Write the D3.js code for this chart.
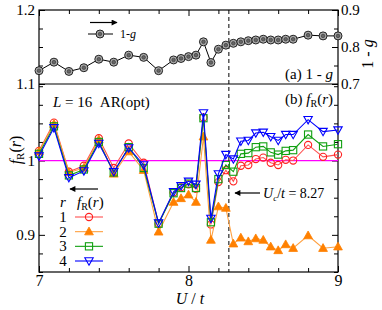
<!DOCTYPE html>
<html>
<head>
<meta charset="utf-8">
<script src="https://cdn.jsdelivr.net/npm/d3@7"></script>
<style>
  body { margin: 0; background: #fff; }
  text { font-family: "Liberation Serif", "Times New Roman", serif; }
</style>
</head>
<body>
<div id="chart"></div>
<script>
// U/t values shared by both panels
const U = [7.0, 7.1, 7.2, 7.3, 7.4, 7.5, 7.6, 7.7, 7.8, 7.9, 7.95, 8.0, 8.05, 8.1, 8.15,
           8.2, 8.25, 8.3, 8.35, 8.4, 8.45, 8.5, 8.55, 8.6, 8.65, 8.7, 8.8, 8.9, 9.0];

// (a) 1 - g, right axis
const oneMinusG = [0.736, 0.759, 0.734, 0.744, 0.767, 0.759, 0.778, 0.772, 0.736, 0.765, 0.769, 0.774, 0.778, 0.814, 0.758,
                   0.794, 0.805, 0.810, 0.814, 0.817, 0.819, 0.821, 0.819, 0.819, 0.821, 0.821, 0.832, 0.830, 0.830];

// (b) f_R(r) for r = 1..4
const f1 = [1.013, 1.051, 0.985, 0.993, 1.030, 0.990, 1.023, 0.997, 0.915, 0.957, 0.964, 0.968, 0.962, 1.058, 0.914,
            0.971, 0.987, 0.972, 0.993, 0.994, 1.002, 1.004, 0.997, 0.994, 1.001, 1.000, 1.021, 1.005, 1.008];
const f2 = [1.012, 1.049, 0.984, 0.990, 1.028, 0.982, 1.012, 0.987, 0.904, 0.944, 0.949, 0.954, 0.944, 1.032, 0.893,
            0.938, 0.936, 0.888, 0.896, 0.891, 0.895, 0.893, 0.884, 0.879, 0.887, 0.882, 0.899, 0.882, 0.884];
const f3 = [1.009, 1.046, 0.980, 0.988, 1.025, 0.984, 1.018, 0.990, 0.915, 0.956, 0.963, 0.969, 0.963, 1.057, 0.917,
            0.975, 0.994, 0.985, 1.009, 1.010, 1.018, 1.019, 1.011, 1.008, 1.013, 1.014, 1.035, 1.019, 1.022];
const f4 = [1.006, 1.044, 0.977, 0.986, 1.023, 0.985, 1.017, 0.994, 0.916, 0.958, 0.966, 0.972, 0.968, 1.064, 0.922,
            0.982, 1.008, 1.002, 1.026, 1.027, 1.037, 1.038, 1.032, 1.027, 1.035, 1.035, 1.055, 1.039, 1.041];

const rLabels = ["1", "2", "3", "4"];
const Uc = 8.27;

const width = 382, height = 310;
const left = 39, right = 338, topY = 10, midY = 84, bottom = 272;

let svg = d3.select("#chart").append("svg")
    .attr("width", width).attr("height", height);

let x = d3.scaleLinear().domain([7, 9]).range([left, right]);
let yTopL = d3.scaleLinear().domain([1.1, 1.2]).range([midY, topY]);
let yTopR = d3.scaleLinear().domain([0.7, 0.9]).range([midY, topY]);
let yBot = d3.scaleLinear().domain([0.85, 1.103]).range([bottom, midY]);

const fs = 15;

function styleAxis(g, majors, minorLen, majorLen) {
    g.select(".domain").remove();
    g.selectAll(".tick text").attr("font-size", fs).attr("fill", "#000")
        .style("font-family", "Liberation Serif");
    g.selectAll(".tick line").attr("stroke", "#000");
    g.selectAll(".tick").each(function(d) {
        let isMajor = majors.some(m => Math.abs(m - d) < 1e-6);
        let ln = d3.select(this).select("line");
        let k = ln.attr("x2") !== null && +ln.attr("x2") !== 0 ? "x2" : "y2";
        let sgn = Math.sign(+ln.attr(k));
        ln.attr(k, sgn * (isMajor ? majorLen : minorLen));
    });
}

const xTicks = d3.range(7, 9.001, 0.2).map(v => +v.toFixed(1));

// bottom x axis
svg.append("g").attr("transform", `translate(0,${bottom})`)
    .call(d3.axisBottom(x).tickValues(xTicks).tickSize(-4).tickPadding(3)
        .tickFormat(d => Number.isInteger(d) ? d : ""))
    .call(g => styleAxis(g, [7, 8, 9], 4, 6))
    .selectAll(".tick text").attr("font-size", 16);

// top x ticks (inward)
svg.append("g").attr("transform", `translate(0,${topY})`)
    .call(d3.axisTop(x).tickValues(xTicks).tickSize(-4).tickFormat(""))
    .call(g => styleAxis(g, [7, 8, 9], 4, 6));

// top panel left axis
const tlTicks = [1.1, 1.125, 1.15, 1.175, 1.2];
svg.append("g").attr("transform", `translate(${left},0)`)
    .call(d3.axisLeft(yTopL).tickValues(tlTicks).tickSize(-4).tickPadding(4)
        .tickFormat(d => (d === 1.1 || d === 1.2) ? d3.format(".1f")(d) : ""))
    .call(g => styleAxis(g, [1.1, 1.2], 4, 6));

// top panel right axis
const trTicks = [0.7, 0.75, 0.8, 0.85, 0.9];
svg.append("g").attr("transform", `translate(${right},0)`)
    .call(d3.axisRight(yTopR).tickValues(trTicks).tickSize(-4).tickPadding(3)
        .tickFormat(d => [0.7, 0.8, 0.9].includes(d) ? d3.format(".1f")(d) : ""))
    .call(g => styleAxis(g, [0.7, 0.8, 0.9], 4, 6));

// bottom panel left/right axes
const bTicks = d3.range(0, 11).map(i => +(0.85 + i * 0.025).toFixed(3));
svg.append("g").attr("transform", `translate(${left},0)`)
    .call(d3.axisLeft(yBot).tickValues(bTicks).tickSize(-4).tickPadding(4)
        .tickFormat(d => d === 1 ? "1" : (d === 0.9 ? "0.9" : "")))
    .call(g => styleAxis(g, [0.9, 1.0], 4, 6));
svg.append("g").attr("transform", `translate(${right},0)`)
    .call(d3.axisRight(yBot).tickValues(bTicks).tickSize(-4).tickFormat(""))
    .call(g => styleAxis(g, [0.9, 1.0], 4, 6));

// frames
svg.append("rect").attr("x", left).attr("y", topY)
    .attr("width", right - left).attr("height", bottom - topY)
    .attr("fill", "none").attr("stroke", "#000").attr("stroke-width", 1.2);
svg.append("line").attr("x1", left).attr("x2", right)
    .attr("y1", midY).attr("y2", midY)
    .attr("stroke", "#000").attr("stroke-width", 1.2);

// magenta f=1 line
svg.append("line").attr("x1", left).attr("x2", right)
    .attr("y1", yBot(1)).attr("y2", yBot(1))
    .attr("stroke", "#ff00ff").attr("stroke-width", 1.2);

// Uc dashed line
svg.append("line").attr("x1", x(Uc)).attr("x2", x(Uc))
    .attr("y1", topY).attr("y2", bottom)
    .attr("stroke", "#000").attr("stroke-width", 1).attr("stroke-dasharray", "4,3");

// arrow marker
svg.append("defs").append("marker")
    .attr("id", "ah").attr("viewBox", "0 0 10 10").attr("refX", 9).attr("refY", 5)
    .attr("markerWidth", 9).attr("markerHeight", 6).attr("orient", "auto-start-reverse")
    .attr("markerUnits", "userSpaceOnUse")
    .append("path").attr("d", "M0,0 L10,5 L0,10 Z").attr("fill", "#000");

function arrow(x1, x2, y) {
    svg.append("line").attr("x1", x1).attr("x2", x2).attr("y1", y).attr("y2", y)
        .attr("stroke", "#000").attr("stroke-width", 1.2).attr("marker-end", "url(#ah)");
}

// (a) 1-g line
let lineTop = d3.line().x((d, i) => x(U[i])).y(d => yTopR(d));
svg.append("path").datum(oneMinusG).attr("d", lineTop)
    .attr("fill", "none").attr("stroke", "#000").attr("stroke-width", 1);
function gMarker(g, cx, cy) {
    g.append("circle").attr("cx", cx).attr("cy", cy).attr("r", 4)
        .attr("fill", "#aaa").attr("stroke", "#222").attr("stroke-width", 1);
    g.append("circle").attr("cx", cx).attr("cy", cy).attr("r", 1.8)
        .attr("fill", "#666").attr("stroke", "#333").attr("stroke-width", 0.6);
}
let gm = svg.append("g");
oneMinusG.forEach((d, i) => gMarker(gm, x(U[i]), yTopR(d)));

// (b) f_R(r) series
const series = [
    {vals: f1, color: "#ff2020", line: "#ff5050", shape: "circle", fill: "none"},
    {vals: f2, color: "#ff8000", line: "#ffa040", shape: "up", fill: "#ff8000"},
    {vals: f3, color: "#10a010", line: "#10a010", shape: "square", fill: "none"},
    {vals: f4, color: "#0000ff", line: "#0000ff", shape: "down", fill: "none"}
];

function drawMarker(g, s, cx, cy) {
    if (s.shape === "circle") {
        g.append("circle").attr("cx", cx).attr("cy", cy).attr("r", 3.6)
            .attr("fill", "none").attr("stroke", s.color).attr("stroke-width", 1.1);
    } else if (s.shape === "square") {
        g.append("rect").attr("x", cx - 3.6).attr("y", cy - 3.6).attr("width", 7.2).attr("height", 7.2)
            .attr("fill", "none").attr("stroke", s.color).attr("stroke-width", 1.1);
    } else if (s.shape === "up") {
        g.append("path").attr("d", `M${cx},${cy - 4.6} L${cx + 4.4},${cy + 3.2} L${cx - 4.4},${cy + 3.2} Z`)
            .attr("fill", s.fill).attr("stroke", s.color).attr("stroke-width", 0.8);
    } else {
        g.append("path").attr("d", `M${cx},${cy + 4.2} L${cx + 4.2},${cy - 3.2} L${cx - 4.2},${cy - 3.2} Z`)
            .attr("fill", "none").attr("stroke", s.color).attr("stroke-width", 1.1);
    }
}

let lineBot = d3.line().x((d, i) => x(U[i])).y(d => yBot(d));
series.forEach(s => {
    let g = svg.append("g");
    g.append("path").datum(s.vals).attr("d", lineBot)
        .attr("fill", "none").attr("stroke", s.line).attr("stroke-width", 1.1);
    s.vals.forEach((d, i) => drawMarker(g, s, x(U[i]), yBot(d)));
});

// legend (a)
arrow(90, 117, 22.5);
svg.append("line").attr("x1", 88).attr("x2", 113).attr("y1", 34).attr("y2", 34)
    .attr("stroke", "#000").attr("stroke-width", 1);
gMarker(svg, 100, 34);
let t1 = svg.append("text").attr("x", 120).attr("y", 38).attr("font-size", 12);
t1.append("tspan").text("1-");
t1.append("tspan").attr("font-style", "italic").text("g");

// panel labels
let ta = svg.append("text").attr("x", 333).attr("y", 79).attr("font-size", fs).attr("text-anchor", "end");
ta.append("tspan").text("(a) 1 - ");
ta.append("tspan").attr("font-style", "italic").text("g");

let tb = svg.append("text").attr("x", 333).attr("y", 104).attr("font-size", fs).attr("text-anchor", "end");
tb.append("tspan").text("(b) ");
tb.append("tspan").attr("font-style", "italic").text("f");
tb.append("tspan").attr("font-size", 10).attr("dy", 3).text("R");
tb.append("tspan").attr("dy", -3).text("(");
tb.append("tspan").attr("font-style", "italic").text("r");
tb.append("tspan").text(")");

let tl = svg.append("text").attr("x", 53).attr("y", 107).attr("font-size", fs);
tl.append("tspan").attr("font-style", "italic").text("L");
tl.append("tspan").text(" = 16\u00a0\u00a0AR(opt)");

// left-pointing arrows
arrow(98, 70, 189);
arrow(260, 235, 193);
let tu = svg.append("text").attr("x", 263).attr("y", 198).attr("font-size", 14);
tu.append("tspan").attr("font-style", "italic").text("U");
tu.append("tspan").attr("font-style", "italic").attr("font-size", 9).attr("dy", 3).text("c");
tu.append("tspan").attr("dy", -3).text("/");
tu.append("tspan").attr("font-style", "italic").text("t");
tu.append("tspan").text(" = 8.27");

// legend (b)
let lh = svg.append("text").attr("x", 60).attr("y", 207).attr("font-size", fs);
lh.append("tspan").attr("font-style", "italic").text("r");
let lh2 = svg.append("text").attr("x", 77).attr("y", 207).attr("font-size", fs);
lh2.append("tspan").attr("font-style", "italic").text("f");
lh2.append("tspan").attr("font-size", 10).attr("dy", 3).text("R");
lh2.append("tspan").attr("dy", -3).text("(");
lh2.append("tspan").attr("font-style", "italic").text("r");
lh2.append("tspan").text(")");

const legY = d3.scalePoint().domain(rLabels).range([217, 261]);
series.forEach((s, i) => {
    let yy = legY(rLabels[i]);
    svg.append("text").attr("x", 63).attr("y", yy + 5).attr("font-size", fs)
        .attr("text-anchor", "middle").text(rLabels[i]);
    svg.append("line").attr("x1", 75).attr("x2", 103).attr("y1", yy).attr("y2", yy)
        .attr("stroke", s.line).attr("stroke-width", 1.1);
    drawMarker(svg, s, 89, yy);
});

// axis titles
let xl = svg.append("text").attr("x", 190).attr("y", 304).attr("font-size", 16).attr("text-anchor", "middle");
xl.append("tspan").attr("font-style", "italic").text("U");
xl.append("tspan").text(" / ");
xl.append("tspan").attr("font-style", "italic").text("t");

let yl = svg.append("text").attr("transform", "translate(21,150) rotate(-90)")
    .attr("font-size", 16).attr("text-anchor", "middle");
yl.append("tspan").attr("font-style", "italic").text("f");
yl.append("tspan").attr("font-size", 11).attr("dy", 3).text("R");
yl.append("tspan").attr("dy", -3).text("(");
yl.append("tspan").attr("font-style", "italic").text("r");
yl.append("tspan").text(")");

let yr = svg.append("text").attr("transform", "translate(373,54) rotate(-90)")
    .attr("font-size", 16).attr("text-anchor", "middle");
yr.append("tspan").text("1 - ");
yr.append("tspan").attr("font-style", "italic").text("g");
</script>
</body>
</html>
